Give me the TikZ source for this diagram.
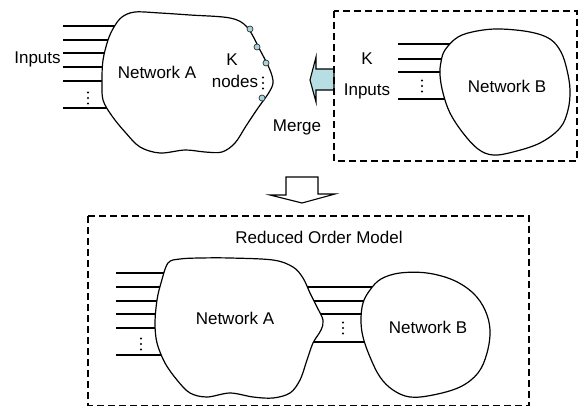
\documentclass[tikz,border=0pt]{standalone}
\usepackage{fontspec}
\setmainfont{Liberation Sans}
\begin{document}
\begin{tikzpicture}[x=1pt,y=-1pt,
  line width=1.2pt,
  lbl/.style={inner sep=0pt,font=\fontsize{17}{20}\selectfont},
  blob/.style={draw,fill=white,line width=1.2pt},
  wire/.style={line width=1.2pt},
  frame/.style={draw,line width=1.1pt,dash pattern=on 7pt off 4pt},
  port/.style={circle,draw=black!80,fill=portblue,line width=0.7pt,inner sep=0pt,minimum size=6pt},
  fatarrow/.style={draw,line width=1.1pt,line join=miter},
  ellipsis/.pic={\foreach \dy in {-5.5,0,5.5} \fill (0,\dy) circle (1.1pt);}
]
\definecolor{portblue}{RGB}{168,212,224}
\definecolor{mergeblue}{RGB}{183,222,226}
\useasboundingbox (0,0) rectangle (579,407);

% ---------- upper left: Network A with its inputs and K nodes ----------
\foreach \y [count=\i] in {26,40,53,67,81,108}{
  \coordinate (ai\i) at (63,\y);
  \coordinate (ae\i) at (130,\y);
  \draw[wire] (ai\i) -- (ae\i);
}
\draw[blob] plot[smooth cycle,tension=0.55] coordinates {
  (122,17) (135,12) (160,13) (190,15) (230,18) (247,27) (260,50) (270,70)
  (273,83) (268,94) (258,108) (246,126) (235,143) (222,152) (205,152)
  (185,150) (160,153) (140,147) (125,132) (112,116) (103,100) (102,80)
  (103,60) (108,40) (114,27)};
\node[lbl] (inA) at (37.5,59) {Inputs};
\pic at (88,98) {ellipsis};
\node[lbl] (netA) at (157,72) {Network A};
\node[lbl] (kA) at (232,60) {K};
\node[lbl] (nodesA) at (235,81) {nodes};
\pic at (263,83) {ellipsis};
\node[port] (p1) at (250,29) {};
\node[port] (p2) at (257,47) {};
\node[port] (p3) at (266,63) {};
\node[port] (p4) at (262,98) {};

% ---------- merge arrow ----------
\draw[fatarrow,fill=mergeblue] (310,80) -- (316,57) -- (316,69) -- (334,69)
  -- (334,90) -- (316,90) -- (316,102) -- cycle;
\node[lbl] (merge) at (297,127) {Merge};

% ---------- upper right: Network B in its dashed frame ----------
\draw[frame] (334,11) rectangle (577,161);
\foreach \y [count=\i] in {44,59,72,99}{
  \coordinate (bi\i) at (398,\y);
  \coordinate (be\i) at (460,\y);
  \draw[wire] (bi\i) -- (be\i);
}
\draw[blob] plot[smooth cycle,tension=0.6] coordinates {
  (445,50) (458,37) (477,31) (500,29) (530,32) (550,39) (561,52) (567,70)
  (570,90) (568,110) (560,128) (540,143) (513,152) (493,155) (478,149)
  (463,133) (450,113) (443,93) (440,75) (441,62)};
\node[lbl] (kB) at (367,59) {K};
\node[lbl] (inB) at (367,91) {Inputs};
\pic at (422,86) {ellipsis};
\node[lbl] (netB) at (507,86) {Network B};

% ---------- reduction arrow ----------
\draw[fatarrow,fill=white] (286,177) -- (318,177) -- (318,194) -- (335,194)
  -- (302,203) -- (270,195) -- (286,195) -- cycle;

% ---------- lower frame: reduced order model ----------
\draw[frame] (88,216) -- (529,216) -- (529,405.5) -- (88,405.5) -- cycle;
\node[lbl] (rom) at (319,237) {Reduced Order Model};
\foreach \y [count=\i] in {273,287,301,314,328,355}{
  \coordinate (ri\i) at (116,\y);
  \coordinate (re\i) at (180,\y);
  \draw[wire] (ri\i) -- (re\i);
}
\foreach \y [count=\i] in {287,301,314,342}{
  \coordinate (ci\i) at (290,\y);
  \coordinate (ce\i) at (390,\y);
  \draw[wire] (ci\i) -- (ce\i);
}
\draw[blob] plot[smooth cycle,tension=0.55] coordinates {
  (168,263) (180,259) (200,258) (230,258) (273,260) (293,267) (303,278)
  (310,293) (317,307) (323,320) (321,330) (313,343) (307,360) (300,380)
  (290,393) (273,398) (253,397) (230,393) (207,397) (190,393) (177,380)
  (165,363) (157,343) (155,323) (157,300) (161,283)};
\draw[blob] plot[smooth cycle,tension=0.6] coordinates {
  (370,290) (381,279) (400,273) (427,273) (453,280) (473,293) (485,310)
  (490,330) (487,353) (478,373) (460,387) (433,395) (410,397) (393,390)
  (380,377) (370,357) (363,337) (361,320) (363,303)};
\pic at (141,344) {ellipsis};
\pic at (343,328) {ellipsis};
\node[lbl] (rA) at (235,318) {Network A};
\node[lbl] (rB) at (428,327) {Network B};
\end{tikzpicture}
\end{document}
